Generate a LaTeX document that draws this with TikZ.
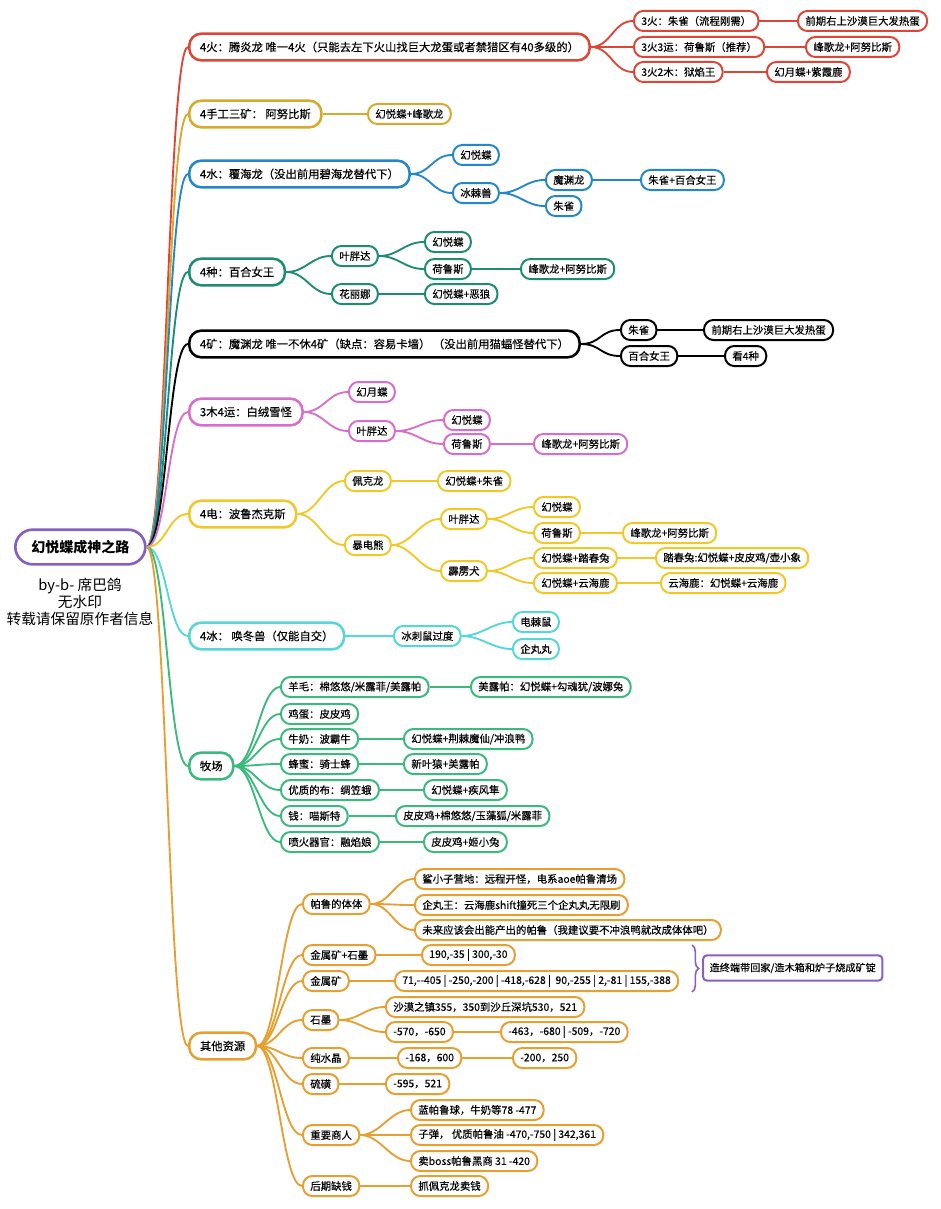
\documentclass[tikz,border=0pt]{standalone}
\usepackage{fontspec}
\setmainfont{Noto Sans CJK SC}
\newfontfamily\boxfont{Noto Sans CJK SC}[FakeBold=0.35]
\usetikzlibrary{positioning,decorations.pathreplacing}

\definecolor{fire}{RGB}{220,70,55}
\definecolor{craft}{RGB}{215,170,45}
\definecolor{water}{RGB}{35,135,200}
\definecolor{seed}{RGB}{30,140,115}
\definecolor{mine}{RGB}{0,0,0}
\definecolor{wood}{RGB}{215,110,205}
\definecolor{volt}{RGB}{240,200,40}
\definecolor{ice}{RGB}{85,215,215}
\definecolor{ranch}{RGB}{60,185,125}
\definecolor{other}{RGB}{230,160,50}
\definecolor{road}{RGB}{135,95,195}

\tikzset{
  topic/.style={draw, fill=white, line width=1.9pt, rounded corners=9pt, minimum height=20pt,
    inner xsep=8pt, inner ysep=2pt, anchor=west, font=\boxfont\fontsize{8.5}{10}\selectfont},
  sub/.style={draw, fill=white, line width=1.5pt, rounded corners=7pt, minimum height=15pt,
    inner xsep=5.5pt, inner ysep=1.5pt, anchor=west, font=\boxfont\fontsize{7.8}{9}\selectfont},
  link/.style={line width=1.4pt},
}
\newcommand{\conn}[2]{\draw[link] (#1.east) .. controls +(20,0) and +(-20,0) .. (#2.west);}

\begin{document}
\begin{tikzpicture}[x=0.75pt,y=-0.75pt]
\useasboundingbox (0,0) rectangle (940,1209);

\node[draw=road, line width=2pt, rounded corners=13pt, minimum height=26pt, inner xsep=12pt,
  anchor=west, font=\bfseries\fontsize{10.5}{12}\selectfont] (start) at (14,547) {幻悦蝶成神之路};
\node[anchor=north, align=center, font=\fontsize{11}{12.8}\selectfont] (sign) at (80,573)
  {by-b- 席巴鸽\\无水印\\转载请保留原作者信息};

% 4火
\begin{scope}[draw=fire]
\node[topic] (fire) at (188,47) {4火：腾炎龙 唯一4火（只能去左下火山找巨大龙蛋或者禁猎区有40多级的）};
\node[sub] (fireA) at (633,21) {3火：朱雀（流程刚需）};
\node[sub] (fireB) at (633,47) {3火3运：荷鲁斯（推荐）};
\node[sub] (fireC) at (633,72) {3火2木：狱焰王};
\node[sub] (fireAa) at (797,21) {前期右上沙漠巨大发热蛋};
\node[sub] (fireBa) at (805,47) {峰歌龙+阿努比斯};
\node[sub] (fireCa) at (766,72) {幻月蝶+紫霞鹿};
\conn{start}{fire}
\conn{fire}{fireA} \conn{fire}{fireB} \conn{fire}{fireC}
\conn{fireA}{fireAa} \conn{fireB}{fireBa} \conn{fireC}{fireCa}
\end{scope}

% 4手工
\begin{scope}[draw=craft]
\node[topic] (craft) at (188,114) {4手工三矿： 阿努比斯};
\node[sub] (craftA) at (367,114) {幻悦蝶+峰歌龙};
\conn{start}{craft} \conn{craft}{craftA}
\end{scope}

% 4水
\begin{scope}[draw=water]
\node[topic] (water) at (188,174) {4水：覆海龙（没出前用碧海龙替代下）};
\node[sub] (waterA) at (452,155) {幻悦蝶};
\node[sub] (waterB) at (452,193) {冰棘兽};
\node[sub] (waterBa) at (545,180) {魔渊龙};
\node[sub] (waterBb) at (545,206) {朱雀};
\node[sub] (waterBaa) at (640,180) {朱雀+百合女王};
\conn{start}{water}
\conn{water}{waterA} \conn{water}{waterB}
\conn{waterB}{waterBa} \conn{waterB}{waterBb} \conn{waterBa}{waterBaa}
\end{scope}

% 4种
\begin{scope}[draw=seed]
\node[topic] (seed) at (188,272) {4种：百合女王};
\node[sub] (seedA) at (331,256) {叶胖达};
\node[sub] (seedB) at (331,294) {花丽娜};
\node[sub] (seedAa) at (424,242) {幻悦蝶};
\node[sub] (seedAb) at (424,269) {荷鲁斯};
\node[sub] (seedAba) at (520,269) {峰歌龙+阿努比斯};
\node[sub] (seedBa) at (424,294) {幻悦蝶+恶狼};
\conn{start}{seed}
\conn{seed}{seedA} \conn{seed}{seedB}
\conn{seedA}{seedAa} \conn{seedA}{seedAb} \conn{seedAb}{seedAba} \conn{seedB}{seedBa}
\end{scope}

% 4矿
\begin{scope}[draw=mine]
\node[topic] (mine) at (188,344) {4矿：魔渊龙 唯一不休4矿（缺点：容易卡墙） （没出前用猫蝠怪替代下）};
\node[sub] (mineA) at (620,330) {朱雀};
\node[sub] (mineB) at (620,356) {百合女王};
\node[sub] (mineAa) at (703,330) {前期右上沙漠巨大发热蛋};
\node[sub] (mineBa) at (724,356) {看4种};
\conn{start}{mine}
\conn{mine}{mineA} \conn{mine}{mineB} \conn{mineA}{mineAa} \conn{mineB}{mineBa}
\end{scope}

% 3木4运
\begin{scope}[draw=wood]
\node[topic] (wood) at (188,412) {3木4运：白绒雪怪};
\node[sub] (woodA) at (348,392) {幻月蝶};
\node[sub] (woodB) at (348,431) {叶胖达};
\node[sub] (woodBa) at (443,420) {幻悦蝶};
\node[sub] (woodBb) at (443,444) {荷鲁斯};
\node[sub] (woodBba) at (533,444) {峰歌龙+阿努比斯};
\conn{start}{wood}
\conn{wood}{woodA} \conn{wood}{woodB}
\conn{woodB}{woodBa} \conn{woodB}{woodBb} \conn{woodBb}{woodBba}
\end{scope}

% 4电
\begin{scope}[draw=volt]
\node[topic] (volt) at (188,514) {4电：波鲁杰克斯};
\node[sub] (voltA) at (344,481) {佩克龙};
\node[sub] (voltAa) at (437,481) {幻悦蝶+朱雀};
\node[sub] (voltB) at (344,545) {暴电熊};
\node[sub] (voltBa) at (440,519) {叶胖达};
\node[sub] (voltBb) at (440,571) {霹雳犬};
\node[sub] (voltBaa) at (533,507) {幻悦蝶};
\node[sub] (voltBab) at (533,533) {荷鲁斯};
\node[sub] (voltBaba) at (622,533) {峰歌龙+阿努比斯};
\node[sub] (voltBba) at (533,558) {幻悦蝶+踏春兔};
\node[sub] (voltBbb) at (533,583) {幻悦蝶+云海鹿};
\node[sub] (voltBbaa) at (655,558) {踏春兔:幻悦蝶+皮皮鸡/壶小象};
\node[sub] (voltBbba) at (660,583) {云海鹿：幻悦蝶+云海鹿};
\conn{start}{volt}
\conn{volt}{voltA} \conn{volt}{voltB} \conn{voltA}{voltAa}
\conn{voltB}{voltBa} \conn{voltB}{voltBb}
\conn{voltBa}{voltBaa} \conn{voltBa}{voltBab} \conn{voltBab}{voltBaba}
\conn{voltBb}{voltBba} \conn{voltBb}{voltBbb}
\conn{voltBba}{voltBbaa} \conn{voltBbb}{voltBbba}
\end{scope}

% 4冰
\begin{scope}[draw=ice]
\node[topic] (ice) at (188,636) {4冰： 唤冬兽（仅能自交）};
\node[sub] (iceA) at (393,636) {冰刺鼠过度};
\node[sub] (iceAa) at (512,622) {电棘鼠};
\node[sub] (iceAb) at (512,649) {企丸丸};
\conn{start}{ice}
\conn{ice}{iceA} \conn{iceA}{iceAa} \conn{iceA}{iceAb}
\end{scope}

% 牧场
\begin{scope}[draw=ranch]
\node[topic] (ranch) at (188,766) {牧场};
\node[sub] (wool) at (280,687) {羊毛：棉悠悠/米露菲/美露帕};
\node[sub] (woolA) at (470,687) {美露帕：幻悦蝶+勾魂犹/波娜兔};
\node[sub] (egg) at (280,714) {鸡蛋：皮皮鸡};
\node[sub] (milk) at (280,739) {牛奶：波霸牛};
\node[sub] (milkA) at (403,739) {幻悦蝶+荆棘魔仙/冲浪鸭};
\node[sub] (honey) at (280,764) {蜂蜜：骑士蜂};
\node[sub] (honeyA) at (403,764) {新叶猿+美露帕};
\node[sub] (cloth) at (280,790) {优质的布：绸笠蛾};
\node[sub] (clothA) at (423,790) {幻悦蝶+疾风隼};
\node[sub] (coin) at (280,816) {钱：喵斯特};
\node[sub] (coinA) at (395,816) {皮皮鸡+棉悠悠/玉藻狐/米露菲};
\node[sub] (flame) at (280,842) {喷火器官：融焰娘};
\node[sub] (flameA) at (423,842) {皮皮鸡+姬小兔};
\conn{start}{ranch}
\foreach \n in {wool,egg,milk,honey,cloth,coin,flame} {\conn{ranch}{\n}}
\foreach \n in {wool,milk,honey,cloth,coin,flame} {\conn{\n}{\n A}}
\end{scope}

% 其他资源
\begin{scope}[draw=other]
\node[topic] (other) at (188,1046) {其他资源};
\node[sub] (pal) at (302,904) {帕鲁的体体};
\node[sub] (palA) at (414,879) {鲨小子营地：远程开怪，电系aoe帕鲁清场};
\node[sub] (palB) at (414,905) {企丸王：云海鹿shift撞死三个企丸丸无限刷};
\node[sub] (palC) at (414,930) {未来应该会出能产出的帕鲁（我建议要不冲浪鸭就改成体体吧）};
\node[sub] (ore) at (302,955) {金属矿+石墨};
\node[sub] (oreA) at (421,955) {190,-35 | 300,-30};
\node[sub] (metal) at (302,981) {金属矿};
\node[sub] (metalA) at (394,981) {71,--405 | -250,-200 | -418,-628 |~ 90,-255 | 2,-81 | 155,-388};
\node[sub] (graph) at (302,1020) {石墨};
\node[sub] (graphA) at (385,1007) {沙漠之镇355，350到沙丘深坑530，521};
\node[sub] (graphB) at (385,1032) {-570，-650};
\node[sub] (graphBa) at (500,1032) {-463，-680 | -509，-720};
\node[sub] (quartz) at (302,1058) {纯水晶};
\node[sub] (quartzA) at (397,1058) {-168，600};
\node[sub] (quartzAa) at (512,1058) {-200，250};
\node[sub] (sulfur) at (302,1084) {硫磺};
\node[sub] (sulfurA) at (385,1084) {-595，521};
\node[sub] (shop) at (302,1135) {重要商人};
\node[sub] (shopA) at (410,1110) {蓝帕鲁球，牛奶等78 -477};
\node[sub] (shopB) at (410,1135) {子弹， 优质帕鲁油 -470,-750 | 342,361};
\node[sub] (shopC) at (410,1161) {卖boss帕鲁黑商 31 -420};
\node[sub] (cash) at (302,1186) {后期缺钱};
\node[sub] (cashA) at (410,1186) {抓佩克龙卖钱};
\conn{start}{other}
\foreach \n in {pal,ore,metal,graph,quartz,sulfur,shop,cash} {\conn{other}{\n}}
\conn{pal}{palA} \conn{pal}{palB} \conn{pal}{palC}
\conn{ore}{oreA} \conn{metal}{metalA}
\conn{graph}{graphA} \conn{graph}{graphB} \conn{graphB}{graphBa}
\conn{quartz}{quartzA} \conn{quartzA}{quartzAa} \conn{sulfur}{sulfurA}
\conn{shop}{shopA} \conn{shop}{shopB} \conn{shop}{shopC} \conn{cash}{cashA}
\end{scope}

\coordinate (braceT) at (692,945);
\coordinate (braceB) at (692,992);
\draw[road, line width=1.2pt, decorate, decoration={brace, amplitude=5pt}] (braceT) -- (braceB);
\node[draw=road, line width=1.5pt, rounded corners=3pt, minimum height=19pt, inner xsep=5pt,
  anchor=west, font=\boxfont\fontsize{7.6}{9}\selectfont] (smelt) at (702,968) {造终端带回家/造木箱和炉子烧成矿锭};
\end{tikzpicture}
\end{document}
